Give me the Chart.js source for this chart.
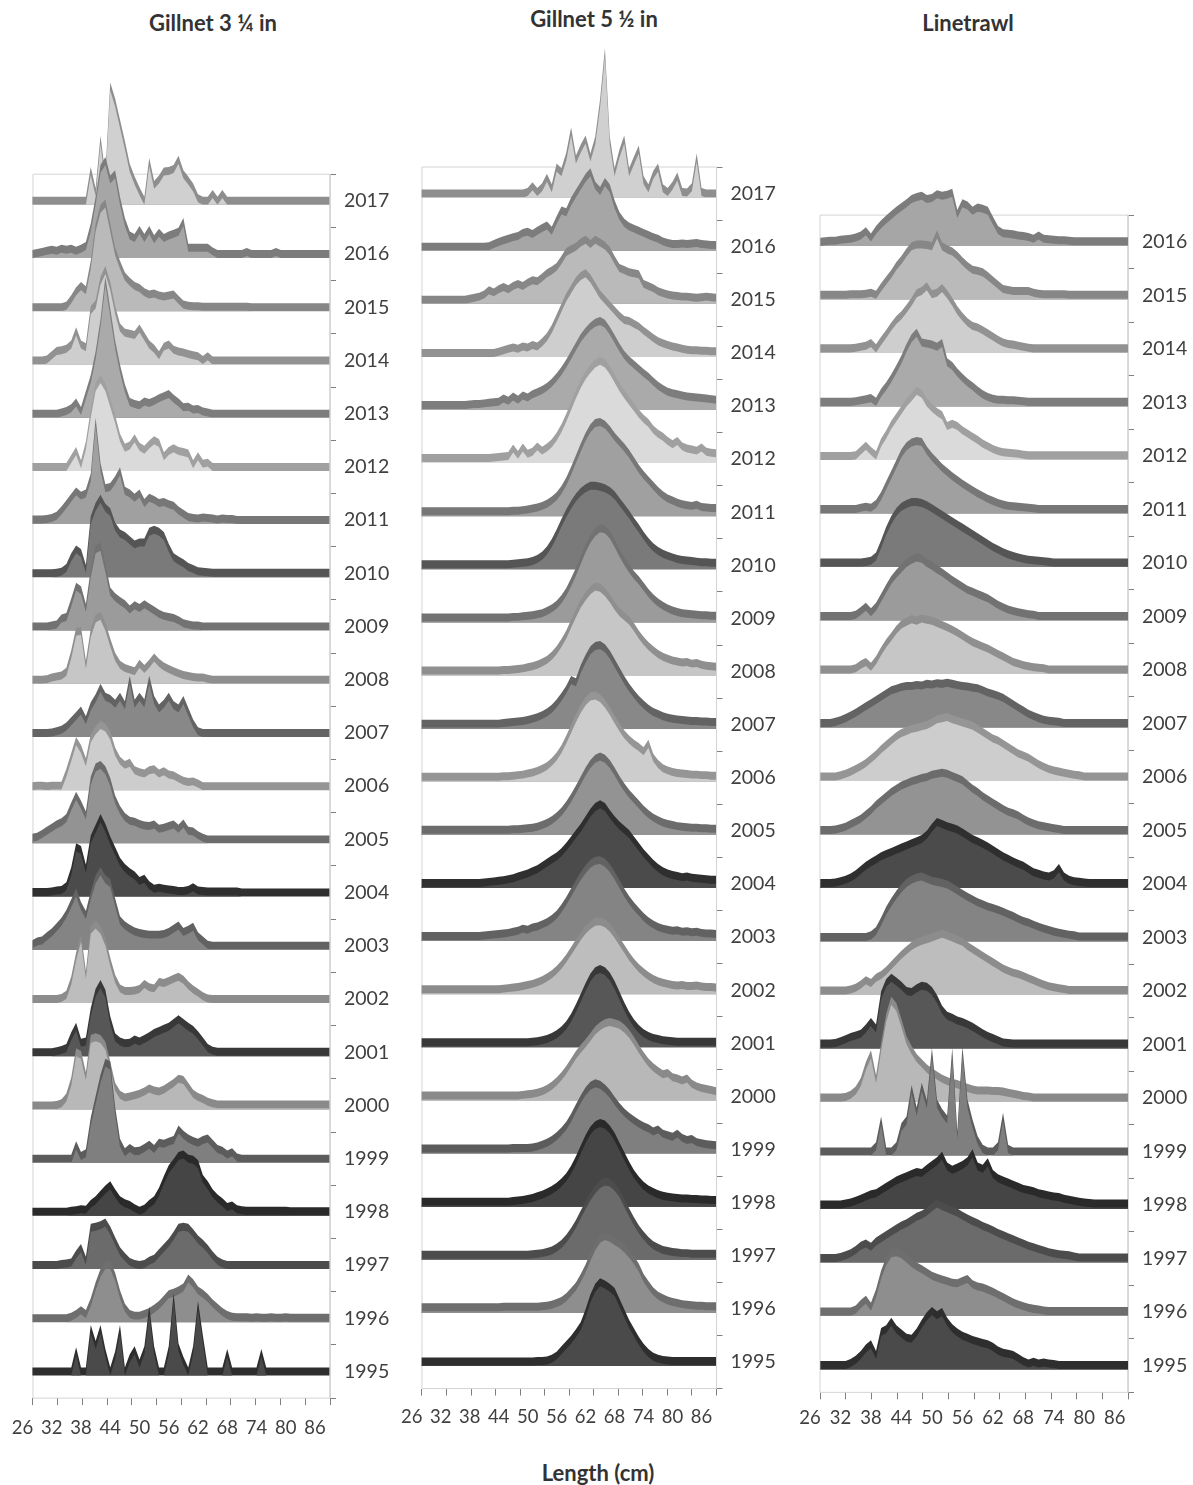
<!DOCTYPE html>
<html>
<head>
<meta charset="utf-8">
<script src="https://cdn.jsdelivr.net/npm/chart.js@4.4.1/dist/chart.umd.min.js"></script>
<style>
  html, body { margin: 0; padding: 0; background: #fff; }
  body { position: relative; width: 1193px; height: 1485px; overflow: hidden; font-family: Lato, "Open Sans", sans-serif; }
  canvas { position: absolute; top: 0; }
  .title { position: absolute; transform: translate(-50%, -50%); white-space: nowrap; font-weight: 700; font-size: 22px; color: #333; }
</style>
</head>
<body>
<div class="title" style="left:213px; top:22px;">Gillnet 3 ¼ in</div>
<div class="title" style="left:594px; top:18px;">Gillnet 5 ½ in</div>
<div class="title" style="left:968px; top:22px;">Linetrawl</div>
<div class="title" style="left:598px; top:1472px;">Length (cm)</div>

<canvas id="gill34" width="400" height="1485" style="left:0px;"></canvas>
<canvas id="gill52" width="405" height="1485" style="left:395px;"></canvas>
<canvas id="line" width="403" height="1485" style="left:790px;"></canvas>

<script>
// Length classes (cm), one value per 1-cm class
const LENGTHS = [28,29,30,31,32,33,34,35,36,37,38,39,40,41,42,43,44,45,46,47,48,49,50,51,52,53,54,55,56,57,
  58,59,60,61,62,63,64,65,66,67,68,69,70,71,72,73,74,75,76,77,78,79,80,81,82,83,84,85,86,87,88,89];
const YEARS = [1995,1996,1997,1998,1999,2000,2001,2002,2003,2004,2005,2006,2007,2008,2009,2010,2011,2012,2013,2014,2015,2016,2017];
const X_TICK_LABELS = [26,32,38,44,50,56,62,68,74,80,86];

// Relative frequency by length class (100 = one year row)
// Gillnet 3 1/4 in
const g34_1995 = [0,0,0,0,0,0,0,0,0,38, 0,0,80,50,80,35,0,30,80,0, 25,40,15,40,115,40,0,0,40,140, 45,20,0,40,125,60,0,0,0,0, 35,0,0,0,0,0,0,35,0,0, 0,0,0,0,0,0,0,0,0,0, 0,0];
const g34_1996 = [0,0,0,0,0,0,0,0,3,8, 15,8,30,60,85,100,100,78,45,20, 8,5,5,8,12,18,25,35,45,48, 52,58,75,66,52,46,38,28,20,12, 6,3,2,2,2,1,2,1,1,2, 1,1,2,1,1,1,1,1,1,1, 1,1];
const g34_1997 = [0,0,0,0,0,0,2,3,5,20, 32,8,70,72,75,80,65,45,26,15, 6,2,0,2,8,12,22,32,42,55, 70,72,70,60,48,40,30,18,8,3, 0,0,0,0,0,0,0,0,0,0, 0,0,0,0,0,0,0,0,0,0, 0,0];
const g34_1998 = [0,0,0,0,0,0,0,0,2,3, 5,4,15,22,32,42,50,35,22,16, 13,7,2,6,15,22,38,60,80,92, 105,108,100,98,90,62,50,35,25,18, 9,12,5,3,2,2,2,2,2,2, 2,2,2,1,1,1,1,1,1,1, 1,1];
const g34_1999 = [0,0,0,0,0,0,0,0,0,25, 5,10,70,110,150,180,175,90,30,12, 20,14,15,20,26,18,30,28,32,35, 55,45,38,33,30,35,38,28,18,15, 8,12,2,0,0,0,0,0,0,0, 0,0,0,0,0,0,0,0,0,0, 0,0];
const g34_2000 = [0,0,0,0,0,1,4,15,45,100, 95,55,125,128,125,112,75,35,20,15, 17,19,22,26,32,28,26,30,36,42, 50,48,35,22,16,12,7,4,2,2, 2,2,2,2,2,2,2,2,2,2, 2,2,2,2,2,2,2,2,2,2, 2,2];
const g34_2001 = [0,0,0,0,0,2,4,8,30,48, 18,20,75,112,128,110,60,28,20,17, 18,24,20,25,30,36,40,44,48,55, 62,55,48,42,32,20,8,3,1,1, 1,1,1,1,1,1,1,1,1,1, 1,1,1,1,1,1,1,1,1,1, 1,1];
const g34_2002 = [0,0,0,0,0,0,2,8,35,80, 115,45,130,140,130,108,70,38,20,15, 15,16,19,28,22,20,32,30,34,38, 42,36,26,18,12,5,1,0,0,0, 0,0,0,0,0,0,0,0,0,0, 0,0,0,0,0,0,0,0,0,0, 0,0];
const g34_2003 = [3,8,10,18,25,35,45,60,80,100, 75,58,95,125,140,125,118,82,48,38, 32,27,24,22,21,21,21,22,26,32, 38,26,30,36,18,10,2,0,0,0, 0,0,0,0,0,0,0,0,0,0, 0,0,0,0,0,0,0,0,0,0, 0,0];
const g34_2004 = [1,1,1,1,2,4,5,12,40,85, 80,45,100,120,140,122,98,78,58,46, 38,32,22,26,14,7,9,7,6,5, 3,3,5,10,4,3,2,2,2,2, 2,2,2,0,0,0,0,0,0,0, 0,0,0,0,0,0,0,0,0,0, 0,0];
const g34_2005 = [3,5,10,16,22,28,32,40,62,82, 65,45,110,135,140,130,108,75,55,42, 35,33,29,26,25,28,20,22,25,28, 20,30,16,15,8,3,0,0,0,0, 0,0,0,0,0,0,0,0,0,0, 0,0,0,0,0,0,0,0,0,0, 0,0];
const g34_2006 = [0,1,1,0,1,1,1,25,55,85, 70,45,90,105,115,110,95,65,48,40, 44,30,26,24,30,32,24,28,22,20, 15,10,8,9,5,0,0,0,0,0, 0,0,0,0,0,0,0,0,0,0, 0,0,0,0,0,0,0,0,0,0, 0,0];
const g34_2007 = [0,0,0,0,1,3,6,12,22,32, 42,24,50,65,85,68,64,55,68,52, 100,55,68,56,100,62,46,55,68,52, 46,62,40,18,3,0,0,0,0,0, 0,0,0,0,0,0,0,0,0,0, 0,0,0,0,0,0,0,0,0,0, 0,0];
const g34_2008 = [0,0,0,1,4,6,8,15,48,90, 92,28,88,115,120,100,70,43,28,22, 19,16,30,20,30,42,32,25,20,16, 12,9,7,5,4,4,2,0,0,0, 0,0,0,0,0,0,0,0,0,0, 0,0,0,0,0,0,0,0,0,0, 0,0];
const g34_2009 = [0,0,0,0,2,4,15,18,45,75, 68,35,100,145,150,110,66,55,48,42, 32,40,35,42,36,30,24,20,18,16, 12,6,4,2,2,0,0,0,0,0, 0,0,0,0,0,0,0,0,0,0, 0,0,0,0,0,0,0,0,0,0, 0,0];
const g34_2010 = [0,0,0,0,0,1,3,10,30,45, 38,8,100,125,140,123,115,88,75,70, 62,54,58,58,78,82,78,70,48,30, 24,19,12,8,4,3,2,1,1,1, 1,1,1,1,1,1,1,1,1,1, 1,1,1,1,1,1,1,1,1,1, 1,1];
const g34_2011 = [1,1,1,2,4,8,18,30,42,54, 46,50,80,185,100,60,62,75,92,55, 50,42,50,32,42,38,32,34,30,27, 18,12,6,4,3,5,4,3,1,3, 2,2,0,0,0,0,0,0,0,0, 0,0,0,0,0,0,0,0,0,0, 0,0];
const g34_2012 = [0,0,0,0,0,0,0,0,15,30, 5,40,100,150,165,150,120,90,55,36, 40,54,38,32,42,50,45,20,30,35, 30,28,25,5,20,6,8,0,0,0, 0,0,0,0,0,0,0,0,0,0, 0,0,0,0,0,0,0,0,0,0, 0,0];
const g34_2013 = [0,0,0,0,0,0,2,5,10,21, 5,35,65,110,170,250,190,130,85,48, 22,18,16,23,20,24,29,33,37,28, 21,12,13,8,9,4,2,0,0,0, 0,0,0,0,0,0,0,0,0,0, 0,0,0,0,0,0,0,0,0,0, 0,0];
const g34_2014 = [0,0,0,2,10,18,19,22,30,55, 30,25,95,105,150,170,140,95,62,52, 50,48,60,45,30,22,10,26,30,20, 17,15,12,10,8,1,8,0,0,0, 0,0,0,0,0,0,0,0,0,0, 0,0,0,0,0,0,0,0,0,0, 0,0];
const g34_2015 = [0,0,0,0,0,0,0,3,15,30, 40,32,80,150,185,195,150,105,80,58, 48,40,36,28,24,26,22,20,22,24, 14,5,3,2,2,1,1,1,1,1, 1,1,1,1,1,0,0,0,0,0, 0,0,0,0,0,0,0,0,0,0, 0,0];
const g34_2016 = [0,2,4,6,8,6,10,8,10,6, 10,15,50,100,160,175,140,150,100,60, 35,30,45,30,45,28,40,30,35,38, 42,60,12,12,12,12,12,5,0,0, 0,0,0,0,4,0,0,0,0,0, 4,0,0,0,0,0,0,0,0,0, 0,0];
const g34_2017 = [0,0,0,0,0,0,0,0,0,0, 0,0,56,16,115,42,215,185,145,105, 62,38,18,0,73,30,40,55,56,60, 77,50,38,25,5,0,0,13,0,13, 0,0,0,0,0,0,0,0,0,0, 0,0,0,0,0,0,0,0,0,0, 0,0];

// Gillnet 5 1/2 in
const g52_1995 = [1,1,1,1,1,1,1,1,1,1, 1,1,1,1,1,1,1,1,1,1, 1,1,1,1,2,2,3,6,12,22, 32,42,54,68,92,120,140,150,146,140, 132,112,92,72,56,40,27,17,10,6, 4,3,2,2,2,2,2,2,2,2, 2,2];
const g52_1996 = [3,3,3,3,3,3,3,3,3,3, 3,3,3,3,3,3,3,4,4,4, 4,4,4,4,4,5,6,8,11,15, 22,32,42,58,76,98,118,132,137,134, 128,122,114,104,92,78,58,45,33,25, 20,16,13,11,9,8,7,6,6,5, 5,5];
const g52_1997 = [2,2,2,2,2,2,2,2,2,2, 2,2,2,2,2,2,2,2,2,2, 2,2,2,3,4,5,7,10,15,22, 32,45,60,78,95,112,125,135,140,138, 130,118,100,82,65,50,38,28,20,15, 11,9,7,6,5,5,4,4,4,4, 4,4];
const g52_1998 = [2,2,2,2,2,2,2,2,2,2, 2,2,2,2,2,2,2,2,2,3, 4,5,7,9,12,15,19,24,30,38, 48,62,80,100,120,136,146,150,147,138, 124,106,88,70,54,42,32,25,20,16, 13,11,10,9,8,8,7,7,6,6, 5,5];
const g52_1999 = [2,2,2,2,2,2,2,2,2,2, 2,2,2,2,2,2,2,2,2,3, 3,3,3,4,6,9,13,18,25,34, 45,60,78,95,110,120,125,122,115,105, 92,80,70,62,55,49,44,40,34,38, 30,27,24,30,22,18,20,14,12,10, 9,8];
const g52_2000 = [2,2,2,2,2,2,2,2,2,2, 2,2,2,2,2,2,2,2,2,2, 2,3,4,5,7,10,14,20,28,38, 50,64,78,90,100,112,124,132,138,140, 138,135,128,118,105,90,76,64,55,48, 42,44,36,34,30,34,24,19,16,14, 12,10];
const g52_2001 = [2,2,2,2,2,2,2,2,2,2, 2,2,2,2,2,2,2,2,2,2, 2,2,2,3,4,6,8,12,17,24, 34,48,66,86,106,124,136,140,136,126, 110,90,70,52,38,27,19,14,10,8, 6,5,4,3,3,3,3,3,3,3, 3,3];
const g52_2002 = [2,2,2,2,2,2,2,2,2,2, 2,2,2,2,2,2,2,3,4,5, 6,8,10,12,15,19,24,30,38,48, 60,74,88,102,114,123,129,130,126,118, 106,92,78,64,52,42,34,27,21,17, 14,12,10,9,10,8,8,9,7,6, 6,5];
const g52_2003 = [2,2,2,2,2,2,2,2,2,2, 2,2,2,3,4,5,6,7,8,10, 12,16,14,18,20,24,28,34,42,54, 68,84,100,115,128,138,144,145,140,130, 116,100,84,70,58,48,38,30,24,19, 16,14,12,13,10,11,9,10,8,7, 7,6];
const g52_2004 = [2,2,2,2,2,2,2,2,2,2, 2,2,2,3,4,5,6,7,9,11, 14,17,20,24,28,34,40,46,52,60, 70,82,94,106,120,134,145,150,145,132, 120,110,102,94,82,70,58,48,38,30, 24,20,17,15,13,14,12,11,10,9, 8,8];
const g52_2005 = [2,2,2,2,2,2,2,2,2,2, 2,2,2,2,2,2,2,2,2,3, 3,4,5,6,8,11,15,20,27,36, 48,62,78,95,112,126,136,140,136,126, 112,96,82,70,60,50,40,32,25,20, 16,13,11,9,8,7,6,6,5,5, 4,4];
const g52_2006 = [2,2,2,2,2,2,2,2,2,2, 2,2,2,2,2,2,2,3,3,4, 5,6,8,10,13,17,22,30,40,54, 72,92,112,130,144,153,155,150,140,126, 110,95,82,72,64,58,50,64,38,26, 18,14,11,9,8,7,6,6,5,5, 4,4];
const g52_2007 = [2,2,2,2,2,2,2,2,2,2, 2,2,2,2,2,2,2,3,4,5, 6,7,9,11,14,18,23,30,40,52, 66,84,80,105,124,140,148,150,144,132, 116,100,84,70,58,47,38,30,24,20, 16,13,11,10,9,8,7,7,6,6, 5,5];
const g52_2008 = [2,2,2,2,2,2,2,2,2,2, 2,2,2,2,2,2,2,3,3,4, 5,6,8,10,13,17,22,30,40,54, 70,90,110,128,142,153,160,158,150,138, 124,112,104,96,84,70,58,48,40,33, 28,24,21,19,17,18,15,16,13,11, 10,9];
const g52_2009 = [2,2,2,2,2,2,2,2,2,2, 2,2,2,2,2,2,2,2,2,3, 3,4,5,6,8,10,14,19,26,36, 50,68,88,110,132,150,163,170,168,158, 142,124,108,94,82,72,60,48,38,30, 24,19,15,12,10,9,8,7,6,6, 5,5];
const g52_2010 = [2,2,2,2,2,2,2,2,2,2, 2,2,2,2,2,2,2,2,2,3, 4,5,6,8,12,18,28,42,60,80, 98,114,128,138,145,150,150,148,145,140, 132,120,108,96,82,70,56,44,34,27, 22,18,15,12,10,9,8,7,6,6, 5,5];
const g52_2011 = [2,2,2,2,2,2,2,2,2,2, 2,2,2,2,2,2,2,2,2,3, 3,4,5,7,9,12,16,22,30,42, 58,78,100,122,142,158,168,170,165,155, 142,132,122,110,96,82,70,60,50,40, 32,26,22,18,15,13,12,14,10,9, 8,8];
const g52_2012 = [2,2,2,2,2,2,2,2,2,2, 2,2,2,2,2,3,4,5,6,20, 8,22,10,14,24,16,22,30,42,58, 78,100,122,142,158,170,180,185,180,168, 152,136,122,110,98,86,76,68,56,48, 42,34,28,34,24,20,18,16,22,14, 12,11];
const g52_2013 = [2,2,2,2,2,2,2,2,2,2, 3,4,4,5,6,7,8,14,10,18, 12,20,16,22,26,30,36,44,54,66, 80,96,112,128,140,150,157,160,155,142, 126,110,96,86,78,70,62,55,46,38, 32,27,24,22,20,18,17,16,15,14, 13,12];
const g52_2014 = [0,0,0,0,0,0,0,0,0,0, 0,0,0,0,0,0,2,5,8,10, 8,12,10,15,12,20,30,45,65,85, 105,120,135,145,150,140,125,110,100,90, 80,70,62,60,55,50,42,35,28,22, 18,15,12,10,8,6,5,5,4,4, 3,3];
const g52_2015 = [0,0,0,0,0,0,0,0,0,0, 2,4,6,10,18,14,20,24,20,26, 30,26,32,37,35,42,50,55,62,75, 90,95,100,108,113,105,113,108,102,92, 75,60,56,52,50,48,30,26,22,16, 13,10,8,7,6,6,5,4,5,6, 5,4];
const g52_2016 = [0,0,0,0,0,0,0,0,0,0, 0,0,0,0,1,5,9,12,15,18, 20,26,28,24,30,35,40,30,50,68, 65,85,100,115,130,140,115,105,122,110, 80,58,45,38,34,30,26,22,18,15, 10,7,5,5,6,5,6,7,5,4, 3,3];
const g52_2017 = [0,0,0,0,0,0,0,0,0,0, 0,0,0,0,0,0,0,0,0,0, 0,0,3,14,3,12,30,10,49,40, 70,117,64,85,102,68,100,170,266,100, 40,75,102,40,62,83,25,10,35,49, 10,3,15,32,3,2,12,68,3,0, 0,0];

// Linetrawl
const lt_1995 = [1,1,1,1,1,1,5,11,20,32, 40,20,63,68,82,68,60,52,50,62, 78,92,102,94,100,82,70,62,56,52, 48,45,42,40,35,28,24,22,20,14, 8,4,7,4,6,4,3,1,1,1, 1,1,1,1,1,1,1,1,1,1, 1,1];
const lt_1996 = [1,1,1,1,1,1,1,5,15,23, 10,35,70,95,110,112,108,100,92,85, 80,74,68,64,61,58,55,54,58,62, 52,48,46,42,38,33,28,23,18,14, 11,8,6,5,3,2,2,2,2,2, 2,2,2,2,2,2,2,2,2,2, 2,2];
const lt_1997 = [1,1,1,1,3,6,10,16,24,28, 22,32,38,44,50,56,62,66,72,78, 82,88,96,103,98,94,90,86,80,75, 70,66,61,57,53,48,44,40,36,32, 28,24,21,18,15,12,10,8,7,6, 4,2,2,2,2,2,2,2,2,2, 2,2];
const lt_1998 = [1,1,1,1,1,3,5,8,12,16, 20,22,28,34,40,46,50,54,58,62, 60,68,75,82,92,72,66,70,75,82, 97,72,68,80,58,50,46,42,38,34, 30,28,26,22,20,18,16,15,12,10, 8,6,5,4,3,3,3,3,3,3, 3,3];
const lt_1999 = [0,0,0,0,0,0,0,0,0,0, 0,10,58,0,0,10,46,58,117,75, 121,88,186,90,72,60,186,30,189,90, 52,21,5,0,0,10,65,5,0,0, 0,0,0,0,0,0,0,0,0,0, 0,0,0,0,0,0,0,0,0,0, 0,0];
const lt_2000 = [1,1,1,1,1,2,6,14,30,60, 82,35,95,150,182,170,140,108,90,75, 65,55,48,42,36,32,28,26,22,19, 16,14,14,14,13,13,12,10,8,6, 4,3,1,1,1,1,1,1,1,1, 1,1,1,1,1,1,1,1,1,1, 1,1];
const lt_2001 = [2,2,2,3,6,10,14,17,20,30, 42,30,92,115,125,118,110,100,98,105, 110,108,100,85,65,54,50,45,42,38, 33,27,21,16,12,8,4,3,2,2, 2,2,2,2,2,2,2,2,2,2, 2,2,2,2,2,2,2,2,2,2, 2,2];
const lt_2002 = [1,1,1,1,1,1,3,6,12,20, 15,25,30,38,48,58,68,76,84,90, 94,97,100,104,107,104,100,96,92,84, 78,72,66,60,54,48,42,38,34,32, 28,24,20,16,12,9,7,5,4,2, 2,2,2,2,2,2,2,2,2,2, 2,2];
const lt_2003 = [1,1,1,1,1,1,1,1,1,1, 4,12,30,50,66,80,92,102,108,112, 114,110,106,104,102,99,94,88,82,76, 71,66,62,58,55,52,48,44,40,35, 31,28,24,20,17,14,11,9,7,5, 4,2,2,2,2,2,2,2,2,2, 2,2];
const lt_2004 = [2,2,2,3,5,8,12,18,26,34, 40,46,52,56,60,64,68,72,76,80, 84,92,105,116,112,108,105,102,96,90, 84,80,75,70,64,58,52,47,42,38, 34,28,22,19,16,14,18,30,14,8, 5,4,3,2,2,2,2,2,2,2, 2,2];
const lt_2005 = [1,1,1,2,4,7,12,17,22,30, 38,48,56,64,72,78,84,88,92,95, 98,100,104,106,108,106,102,98,94,86, 78,72,64,58,52,46,40,35,32,28, 22,17,13,10,8,6,4,3,1,1, 1,1,1,1,1,1,1,1,1,1, 1,1];
const lt_2006 = [1,1,1,1,3,6,10,15,20,26, 34,42,52,60,68,76,82,86,90,92, 95,97,102,108,110,112,108,105,102,99, 96,90,84,78,72,68,62,56,50,44, 40,36,30,24,19,15,12,10,8,6, 4,3,1,1,1,1,1,1,1,1, 1,1];
const lt_2007 = [1,1,1,3,6,10,15,20,26,32, 38,44,50,56,62,65,68,70,70,72, 71,74,73,75,74,76,74,72,70,69, 67,66,62,58,55,52,48,42,36,30, 24,18,14,10,7,5,4,3,1,1, 1,1,1,1,1,1,1,1,1,1, 1,1];
const lt_2008 = [1,1,1,1,1,1,1,3,10,15, 6,18,35,50,62,75,85,90,95,92, 96,94,92,88,84,80,75,70,64,58, 52,48,44,40,35,30,25,20,15,12, 9,7,5,4,3,1,1,1,1,1, 1,1,1,1,1,1,1,1,1,1, 1,1];
const lt_2009 = [1,1,1,1,1,1,1,3,10,18, 8,18,35,52,68,80,90,100,106,110, 108,100,95,88,82,75,68,62,56,50, 46,42,38,34,28,22,17,13,10,8, 6,4,3,1,1,1,1,1,1,1, 1,1,1,1,1,1,1,1,1,1, 1,1];
const lt_2010 = [1,1,1,1,1,1,1,1,1,2, 4,12,35,60,80,95,105,110,114,114, 112,108,102,96,90,84,78,72,66,60, 54,48,42,36,30,25,20,16,13,10, 8,6,5,4,3,2,1,1,1,1, 1,1,1,1,1,1,1,1,1,1, 1,1];
const lt_2011 = [1,1,1,1,1,1,1,1,3,5, 3,10,25,45,65,85,105,118,125,128, 126,110,98,88,78,70,62,55,48,42, 36,30,25,20,16,12,9,7,6,5, 4,3,2,1,1,1,1,1,1,1, 1,1,1,1,1,1,1,1,1,1, 1,1];
const lt_2012 = [0,0,0,0,0,0,0,1,10,19, 9,1,25,40,58,72,86,100,110,122, 116,100,90,82,76,56,60,56,48,42, 36,30,23,18,13,9,7,6,5,4, 2,1,1,1,1,1,1,1,1,1, 1,1,1,1,1,1,1,1,1,1, 1,1];
const lt_2013 = [1,1,1,1,1,1,1,2,4,6, 8,1,18,30,45,62,80,102,120,130, 112,110,108,104,111,75,68,56,46,37, 30,22,15,10,7,5,5,4,4,3, 2,1,1,1,1,1,1,1,1,1, 1,1,1,1,1,1,1,1,1,1, 1,1];
const lt_2014 = [1,1,1,1,1,1,1,2,4,6, 11,1,15,28,42,54,63,75,88,104, 108,117,102,105,114,102,88,72,60,50, 43,40,35,29,23,17,12,9,8,6, 4,2,1,1,1,1,1,1,1,1, 1,1,1,1,1,1,1,1,1,1, 1,1];
const lt_2015 = [1,1,1,1,1,1,2,2,2,3, 5,1,15,28,40,55,66,80,92,95, 95,94,92,114,92,86,82,74,64,55, 48,46,43,36,28,20,12,10,8,8, 8,8,5,3,2,2,2,2,2,1, 1,1,1,1,1,1,1,1,1,1, 1,1];
const lt_2016 = [0,1,2,2,4,5,6,8,12,20, 8,22,33,42,50,58,65,72,80,84, 86,80,82,89,86,88,92,52,72,68, 58,64,62,58,40,22,16,15,14,12, 11,9,6,12,6,5,4,3,3,2, 1,1,1,1,1,1,1,1,1,1, 1,1];

// Shade of each year's ridge (front face) and of its top edge, 1995 first
const FRONT = ['#4a4a4a','#8e8e8e','#6b6b6b','#454545','#7f7f7f','#b8b8b8','#575757','#bdbdbd','#848484','#4b4b4b','#939393','#cdcdcd',
  '#888888','#c6c6c6','#9b9b9b','#7a7a7a','#a0a0a0','#dadada','#aaaaaa','#cecece','#bababa','#a6a6a6','#d0d0d0'];
const EDGE = ['#2e2e2e','#6e6e6e','#4c4c4c','#2a2a2a','#5c5c5c','#8a8a8a','#383838','#8c8c8c','#626262','#2f2f2f','#6c6c6c','#959595',
  '#636363','#8f8f8f','#727272','#555555','#777777','#a0a0a0','#7d7d7d','#929292','#878787','#7c7c7c','#8e8e8e'];

const ROW = 100;   // vertical offset between successive years
const BAND = 15;   // thickness of the ridge's top edge

const TEXT_COLOR = '#404040';
const TICK_COLOR = '#7f7f7f';
const FRAME_COLOR = '#d4d4d4';

function ridgeChart(cfg) {
  const n = cfg.series.length;
  const datasets = [];
  cfg.series.forEach((vals, i) => {
    const base = i * ROW - BAND / 2;
    datasets.push({
      data: LENGTHS.map((x, k) => ({ x, y: base + vals[k] })),
      backgroundColor: FRONT[i], fill: { value: base },
      borderWidth: 0, pointRadius: 0, tension: 0
    });
    datasets.push({
      data: LENGTHS.map((x, k) => ({ x, y: base + BAND + vals[k] })),
      backgroundColor: EDGE[i], fill: { value: base },
      borderWidth: 0, pointRadius: 0, tension: 0
    });
  });
  const yTop = (n - 1) * ROW + ROW / 2, yBot = -ROW / 2;
  // plot frame (drawn underneath the ridges)
  datasets.push({
    data: [{ x: cfg.frameLeft, y: yBot }, { x: cfg.frameLeft, y: yTop }, { x: cfg.xMax, y: yTop },
           { x: cfg.xMax, y: yBot }, { x: cfg.frameLeft, y: yBot }],
    borderColor: FRAME_COLOR, borderWidth: 1, fill: false, pointRadius: 0, clip: false
  });

  // x ticks: labelled values plus evenly spaced tick marks along the frame
  const xTicks = X_TICK_LABELS.map(v => ({ value: v }));
  for (let k = 0; k <= 12; k++) {
    xTicks.push({ value: cfg.frameLeft + (cfg.xMax - cfg.frameLeft) * k / 12, mark: true });
  }
  xTicks.sort((a, b) => a.value - b.value);

  // y ticks: year labels on each ridge baseline, tick marks between rows
  const yTicks = [];
  for (let i = 0; i <= n; i++) yTicks.push({ value: i * ROW - ROW / 2, mark: true });
  for (let i = 0; i < n; i++) yTicks.push({ value: i * ROW, year: YEARS[i] });
  yTicks.sort((a, b) => a.value - b.value);

  const markColor = c => (c.tick && c.tick.mark) ? TICK_COLOR : 'rgba(0,0,0,0)';

  return new Chart(document.getElementById(cfg.canvas), {
    type: 'line',
    data: { datasets },
    options: {
      responsive: false, animation: false, events: [],
      layout: { padding: cfg.padding },
      plugins: { legend: { display: false }, tooltip: { enabled: false }, title: { display: false } },
      scales: {
        x: {
          type: 'linear', min: 26, max: cfg.xMax,
          afterBuildTicks: s => { s.ticks = xTicks.map(t => Object.assign({}, t)); },
          afterFit: s => { s.height = 60; s.paddingLeft = 0; s.paddingRight = 0; },
          ticks: {
            autoSkip: false, maxRotation: 0, minRotation: 0, padding: cfg.xLabelPad,
            color: TEXT_COLOR, font: { family: 'Lato', size: 18.5 },
            callback: (v, idx, ticks) => ticks[idx].mark ? '' : String(v)
          },
          grid: { drawOnChartArea: false, drawTicks: true, tickLength: 7, lineWidth: 1, color: markColor, tickColor: markColor },
          border: { display: false }
        },
        y: {
          type: 'linear', position: 'right', min: -ROW / 2, max: cfg.yMax,
          afterBuildTicks: s => { s.ticks = yTicks.map(t => Object.assign({}, t)); },
          afterFit: s => { s.width = cfg.yAxisWidth; s.paddingTop = 0; s.paddingBottom = 0; },
          ticks: {
            autoSkip: false, padding: 8, color: TEXT_COLOR, font: { family: 'Lato', size: 19.5 },
            callback: (v, idx, ticks) => ticks[idx].year ? String(ticks[idx].year) : ''
          },
          grid: { drawOnChartArea: false, drawTicks: true, tickLength: 6, lineWidth: 1, color: markColor, tickColor: markColor },
          border: { display: false }
        }
      }
    }
  });
}

ridgeChart({
  canvas: 'gill34',
  series: [g34_1995,g34_1996,g34_1997,g34_1998,g34_1999,g34_2000,g34_2001,g34_2002,g34_2003,g34_2004,g34_2005,g34_2006,
           g34_2007,g34_2008,g34_2009,g34_2010,g34_2011,g34_2012,g34_2013,g34_2014,g34_2015,g34_2016,g34_2017],
  xMax: 89.08, frameLeft: 28.15, yMax: 2450, yAxisWidth: 70, xLabelPad: 11.9,
  padding: { left: 22.5, right: 0, top: 67.8, bottom: 26.9 }
});
ridgeChart({
  canvas: 'gill52',
  series: [g52_1995,g52_1996,g52_1997,g52_1998,g52_1999,g52_2000,g52_2001,g52_2002,g52_2003,g52_2004,g52_2005,g52_2006,
           g52_2007,g52_2008,g52_2009,g52_2010,g52_2011,g52_2012,g52_2013,g52_2014,g52_2015,g52_2016,g52_2017],
  xMax: 89.1, frameLeft: 28.13, yMax: 2550, yAxisWidth: 83.5, xLabelPad: 10.3,
  padding: { left: 16.7, right: 0, top: 7.7, bottom: 36.44 }
});
ridgeChart({
  canvas: 'line',
  series: [lt_1995,lt_1996,lt_1997,lt_1998,lt_1999,lt_2000,lt_2001,lt_2002,lt_2003,lt_2004,lt_2005,lt_2006,
           lt_2007,lt_2008,lt_2009,lt_2010,lt_2011,lt_2012,lt_2013,lt_2014,lt_2015,lt_2016],
  xMax: 88.6, frameLeft: 27.97, yMax: 2350, yAxisWidth: 65, xLabelPad: 7.9,
  padding: { left: 20, right: 0, top: 108.1, bottom: 32.64 }
});
</script>
</body>
</html>
